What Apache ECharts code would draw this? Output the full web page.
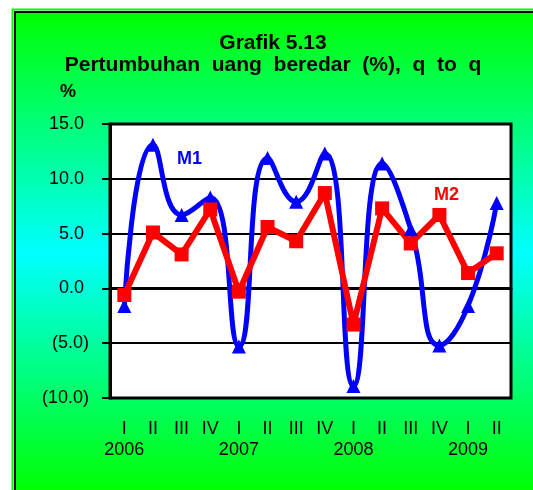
<!DOCTYPE html>
<html>
<head>
    <meta charset="UTF-8">
    <title>Grafik 5.13</title>
    <style>
        body { margin: 0; background: #fff; }
    </style>
</head>
<body>
<div id="main" style="width: 533px;height:490px;"></div>
<script type="text/javascript" src="https://cdn.jsdelivr.net/npm/echarts@6/dist/echarts.min.js"></script>
<script type="text/javascript">
    // kuartal dan tahun
    var quarters = ['I', 'II', 'III', 'IV', 'I', 'II', 'III', 'IV', 'I', 'II', 'III', 'IV', 'I', 'II'];
    var years = ['2006', '', '', '', '2007', '', '', '', '2008', '', '', '', '2009', ''];
    // pertumbuhan uang beredar (%), q to q
    var m1 = [-1.6, 13.1, 6.7, 8.3, -5.3, 11.9, 7.9, 12.3, -8.9, 11.4, 5.4, -5.2, -1.6, 7.8];
    var m2 = [-0.6, 5.1, 3.1, 7.2, -0.3, 5.6, 4.3, 8.7, -3.3, 7.3, 4.1, 6.7, 1.4, 3.2];
    var yMin = -10, yMax = 15, yStep = 5;

    var categories = quarters.map(function (q, i) {
        return q + '\n' + years[i];
    });

    var myChart = echarts.init(document.getElementById('main'));
    var option = {
        animation: false,
        graphic: [
            {
                type: 'rect',
                z: -10,
                shape: {x: 12.5, y: 9.5, width: 560, height: 520},
                style: {fill: 'none', stroke: '#00ff00', lineWidth: 2}
            },
            {
                type: 'rect',
                z: -9,
                shape: {x: 15, y: 12, width: 560, height: 480},
                style: {
                    fill: new echarts.graphic.LinearGradient(0, 0, 0, 1, [
                        {offset: 0, color: '#00ff00'},
                        {offset: 0.5, color: '#00ffff'},
                        {offset: 1, color: '#00ff00'}
                    ]),
                    stroke: '#000',
                    lineWidth: 2
                }
            },
            {
                type: 'text',
                x: 273, y: 32,
                style: {
                    text: 'Grafik 5.13\nPertumbuhan  uang  beredar  (%),  q  to  q',
                    fontFamily: 'Liberation Sans, Arial',
                    fontWeight: 'bold',
                    fontSize: 21,
                    lineHeight: 22,
                    fill: '#000',
                    align: 'center'
                }
            },
            {
                type: 'text',
                x: 60, y: 83,
                style: {text: '%', fontFamily: 'Liberation Sans, Arial', fontWeight: 'bold', fontSize: 18, fill: '#000'}
            },
            {
                type: 'text',
                x: 177, y: 150,
                z: 10,
                style: {text: 'M1', fontFamily: 'Liberation Sans, Arial', fontWeight: 'bold', fontSize: 18, fill: '#0000ff'}
            },
            {
                type: 'text',
                x: 434, y: 186,
                z: 10,
                style: {text: 'M2', fontFamily: 'Liberation Sans, Arial', fontWeight: 'bold', fontSize: 18, fill: '#ff0000'}
            }
        ],
        grid: {
            left: 110,
            top: 124,
            width: 401,
            height: 274,
            show: true,
            backgroundColor: '#fff',
            borderColor: '#000',
            borderWidth: 3
        },
        xAxis: {
            type: 'category',
            data: categories,
            boundaryGap: true,
            axisLine: {lineStyle: {color: '#000', width: 3}},
            axisTick: {alignWithLabel: true, length: 4, lineStyle: {color: '#000', width: 2}},
            axisLabel: {
                color: '#000',
                fontFamily: 'Liberation Sans, Arial',
                fontSize: 18,
                lineHeight: 21,
                margin: 21,
                interval: 0
            }
        },
        yAxis: {
            type: 'value',
            min: yMin,
            max: yMax,
            interval: yStep,
            axisLine: {show: true, lineStyle: {color: '#000', width: 3}},
            axisTick: {show: true, length: 8, lineStyle: {color: '#000', width: 2}},
            splitLine: {lineStyle: {color: '#000', width: 2}},
            axisLabel: {
                color: '#000',
                fontFamily: 'Liberation Sans, Arial',
                fontSize: 18,
                margin: 21,
                formatter: function (v) {
                    return v < 0 ? '(' + Math.abs(v).toFixed(1) + ')' : v.toFixed(1) + ' ';
                }
            }
        },
        series: [
            {
                name: 'M1',
                type: 'line',
                smooth: 0.5,
                data: m1,
                symbol: 'triangle',
                symbolSize: 14,
                itemStyle: {color: '#0000ff'},
                lineStyle: {color: '#0000ff', width: 5}
            },
            {
                name: 'M2',
                type: 'line',
                data: m2,
                symbol: 'rect',
                symbolSize: 14,
                itemStyle: {color: '#ff0000'},
                lineStyle: {color: '#ff0000', width: 6}
            }
        ]
    };
    myChart.setOption(option);
</script>
</body>
</html>
